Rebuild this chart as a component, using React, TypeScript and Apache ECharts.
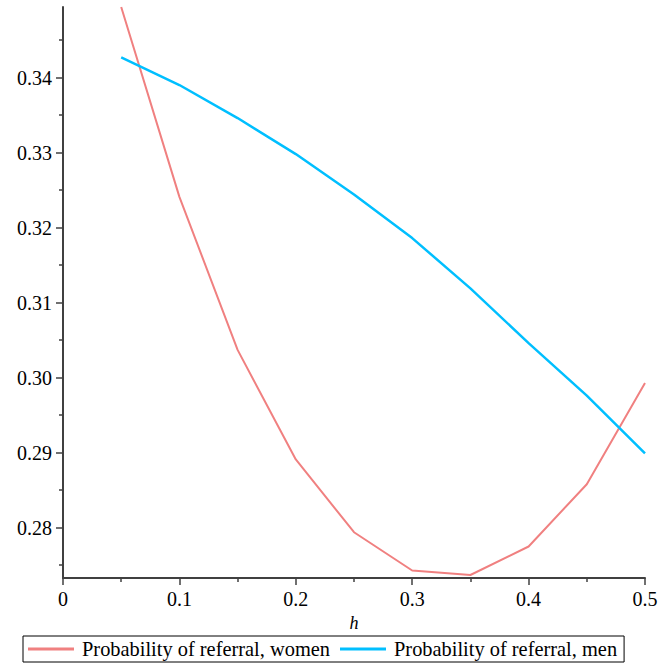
import React, { useEffect, useRef } from "react";
import * as echarts from "echarts";

const hValues = [0.05, 0.1, 0.15, 0.2, 0.25, 0.3, 0.35, 0.4, 0.45, 0.5];
const womenValues = [0.3494, 0.3241, 0.3037, 0.2891, 0.2794, 0.2743, 0.2737, 0.2775, 0.2858, 0.2993];
const menValues = [0.3427, 0.339, 0.3346, 0.3298, 0.3244, 0.3186, 0.3119, 0.3046, 0.2976, 0.2899];
const yMajorTicks = [0.28, 0.29, 0.3, 0.31, 0.32, 0.33, 0.34];
const yMinorTicks = [0.275, 0.285, 0.295, 0.305, 0.315, 0.325, 0.335, 0.345];
const seriesNames = ["Probability of referral, women", "Probability of referral, men"];

const FONT = "Liberation Serif";
const AXIS_COLOR = "#404040";

export default function App() {
  const ref = useRef<HTMLDivElement>(null);
  useEffect(() => {
    if (!ref.current) return;
    const chart = echarts.init(ref.current, undefined, { renderer: "svg" });
    const yMin = 0.2733;
    const yMax = 0.3494;
    chart.setOption({
      animation: false,
      textStyle: { fontFamily: FONT },
      grid: { left: 63, right: 25, top: 7, bottom: 86, containLabel: false },
      legend: {
        show: true,
        data: seriesNames,
        top: 636,
        left: 23,
        padding: [3, 7, 3, 5],
        borderColor: "#000",
        borderWidth: 1,
        itemWidth: 46,
        itemHeight: 3,
        itemGap: 10,
        icon: "rect",
        textStyle: { fontFamily: FONT, fontSize: 20.4, color: "#000", padding: [0, 0, 0, 3] },
      },
      xAxis: {
        type: "value",
        min: 0,
        max: 0.5,
        interval: 0.1,
        name: "h",
        nameLocation: "middle",
        nameGap: 32,
        nameTextStyle: { fontFamily: FONT, fontSize: 18, fontStyle: "italic", color: "#000" },
        axisLine: { show: true, lineStyle: { color: AXIS_COLOR, width: 2 } },
        axisTick: { show: true, inside: false, length: 7, lineStyle: { color: AXIS_COLOR, width: 1.5 } },
        minorTick: { show: true, splitNumber: 2, length: 4, lineStyle: { color: AXIS_COLOR, width: 1.5 } },
        splitLine: { show: false },
        axisLabel: {
          fontFamily: FONT,
          fontSize: 20,
          color: "#000",
          margin: 11,
          formatter: (v: number) => (v === 0 ? "0" : String(Number(v.toFixed(1)))),
        },
      },
      yAxis: [
        {
          type: "value",
          min: yMin,
          max: yMax,
          axisLine: { show: true, onZero: false, lineStyle: { color: AXIS_COLOR, width: 2 } },
          axisTick: {
            show: true,
            length: 7,
            customValues: yMajorTicks,
            lineStyle: { color: AXIS_COLOR, width: 1.5 },
          },
          splitLine: { show: false },
          axisLabel: {
            fontFamily: FONT,
            fontSize: 20,
            color: "#000",
            margin: 11,
            customValues: yMajorTicks,
            formatter: (v: number) => v.toFixed(2),
          },
        },
        {
          type: "value",
          min: yMin,
          max: yMax,
          position: "left",
          offset: 0,
          axisLine: { show: false },
          axisTick: {
            show: true,
            length: 4,
            customValues: yMinorTicks,
            lineStyle: { color: AXIS_COLOR, width: 1.5 },
          },
          splitLine: { show: false },
          axisLabel: { show: false },
        },
      ],
      series: [
        {
          name: seriesNames[0],
          type: "line",
          data: hValues.map((h, i) => [h, womenValues[i]]),
          symbol: "none",
          showSymbol: false,
          lineStyle: { color: "#F08080", width: 2 },
          itemStyle: { color: "#F08080" },
          clip: true,
        },
        {
          name: seriesNames[1],
          type: "line",
          data: hValues.map((h, i) => [h, menValues[i]]),
          symbol: "none",
          showSymbol: false,
          lineStyle: { color: "#00BFFF", width: 2.5 },
          itemStyle: { color: "#00BFFF" },
          clip: true,
        },
      ],
    });
    return () => chart.dispose();
  }, []);
  return (
    <div
      ref={ref}
      style={{ position: "fixed", left: 0, top: 0, width: 670, height: 664, background: "#fff" }}
    />
  );
}
